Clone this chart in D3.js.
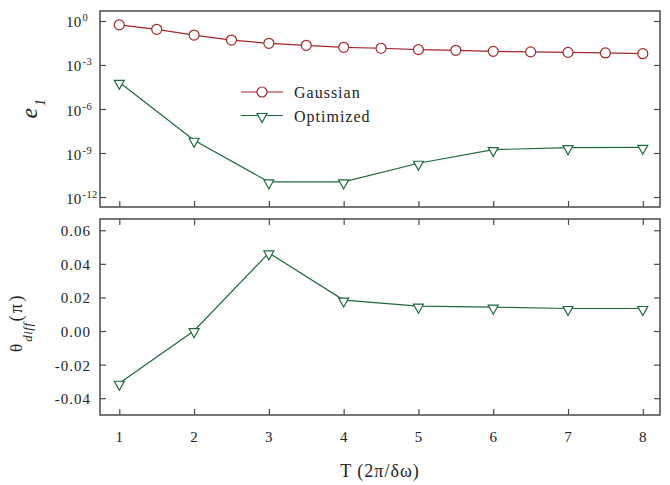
<!DOCTYPE html>
<html>
<head>
<meta charset="utf-8">
<script src="https://cdn.jsdelivr.net/npm/d3@7"></script>
<style>
  html, body { margin: 0; padding: 0; background: #fff; }
  svg text { font-family: "Liberation Serif", "Times New Roman", serif; fill: #222; }
</style>
</head>
<body>
<svg id="chart" width="670" height="485"></svg>
<script>
// ---------- data ----------
const xTicks = [1, 2, 3, 4, 5, 6, 7, 8];
const gaussT = [1, 1.5, 2, 2.5, 3, 3.5, 4, 4.5, 5, 5.5, 6, 6.5, 7, 7.5, 8];
const gaussE = [0.54, 0.27, 0.11, 0.05, 0.030, 0.022, 0.016, 0.0138, 0.0112, 0.010, 0.0085, 0.0078, 0.0072, 0.0066, 0.0059];
const optT = [1, 2, 3, 4, 5, 6, 7, 8];
const optE = [6.6e-5, 7.4e-9, 1.07e-11, 1.07e-11, 2.0e-10, 1.7e-9, 2.3e-9, 2.45e-9];
const thetaDiff = [-0.0311, 0.0002, 0.0465, 0.0184, 0.0148, 0.0142, 0.0134, 0.0134];
const topExponents = [0, -3, -6, -9, -12];
const bottomTicks = [0.06, 0.04, 0.02, 0.00, -0.02, -0.04];
const seriesNames = ["Gaussian", "Optimized"];
const colors = { gauss: "#a3282c", opt: "#1d6b3b" };

// ---------- layout ----------
const svg = d3.select("#chart");
const L = 100, R = 660;
const top1 = 11, bot1 = 207;
const top2 = 219, bot2 = 415;
const frameColor = "#4a4a4a";

const x = d3.scaleLinear().domain([0.742, 8.23]).range([L, R]);
const yTop = d3.scaleLog().domain([Math.pow(10, -12.68), Math.pow(10, 0.68)]).range([bot1, top1]);
const yBot = d3.scaleLinear().domain([-0.0500, 0.0667]).range([bot2, top2]);

function styleAxis(g) {
  g.select(".domain").remove();
  g.selectAll(".tick line").attr("stroke", frameColor).attr("stroke-width", 1.2);
  g.selectAll(".tick text").remove();
}

// ---------- top panel ----------
const gTop = svg.append("g");
gTop.append("g").attr("transform", `translate(${L},0)`)
  .call(d3.axisLeft(yTop).tickValues(topExponents.map(e => Math.pow(10, e))).tickSize(-6).tickFormat(""))
  .call(styleAxis);
gTop.append("g").attr("transform", `translate(${R},0)`)
  .call(d3.axisRight(yTop).tickValues(topExponents.map(e => Math.pow(10, e))).tickSize(-6).tickFormat(""))
  .call(styleAxis);
gTop.append("g").attr("transform", `translate(0,${bot1})`)
  .call(d3.axisBottom(x).tickValues(xTicks).tickSize(-6).tickFormat(""))
  .call(styleAxis);
gTop.append("rect").attr("x", L).attr("y", top1).attr("width", R - L).attr("height", bot1 - top1)
  .attr("fill", "none").attr("stroke", frameColor).attr("stroke-width", 1.5);

// top tick labels 10^n
topExponents.forEach(e => {
  const t = gTop.append("text").attr("x", 66).attr("y", yTop(Math.pow(10, e)) + 6.5)
    .attr("font-size", 15).attr("letter-spacing", 0.3);
  t.append("tspan").text("10");
  t.append("tspan").attr("font-size", 10.5).attr("dy", -6).attr("dx", 1).text(String(e));
});

// y-label e_1
const eLab = svg.append("text").attr("transform", "translate(37,118.5) rotate(-90)");
eLab.append("tspan").attr("font-size", 24).attr("font-style", "italic").text("e");
eLab.append("tspan").attr("font-size", 15).attr("font-style", "italic").attr("dy", 8).attr("dx", 1.5).text("1");

// series
const lineG = d3.line().x((d, i) => x(gaussT[i])).y(d => yTop(d));
gTop.append("path").datum(gaussE).attr("d", lineG).attr("fill", "none")
  .attr("stroke", colors.gauss).attr("stroke-width", 1.2);
gTop.selectAll("circle.g").data(gaussE).enter().append("circle")
  .attr("cx", (d, i) => x(gaussT[i])).attr("cy", d => yTop(d)).attr("r", 5)
  .attr("fill", "#fff").attr("stroke", colors.gauss).attr("stroke-width", 1.2);

function triPath(cx, cy) {
  return `M${cx - 5},${cy - 2}L${cx + 5},${cy - 2}L${cx},${cy + 7}Z`;
}
const lineO = d3.line().x((d, i) => x(optT[i])).y(d => yTop(d));
gTop.append("path").datum(optE).attr("d", lineO).attr("fill", "none")
  .attr("stroke", colors.opt).attr("stroke-width", 1.2);
gTop.selectAll("path.t").data(optE).enter().append("path")
  .attr("d", (d, i) => triPath(x(optT[i]), yTop(d)))
  .attr("fill", "#fff").attr("stroke", colors.opt).attr("stroke-width", 1.2);

// legend
const leg = svg.append("g");
leg.append("line").attr("x1", 241).attr("x2", 283).attr("y1", 92).attr("y2", 92)
  .attr("stroke", colors.gauss).attr("stroke-width", 1.2);
leg.append("circle").attr("cx", 262).attr("cy", 92).attr("r", 5)
  .attr("fill", "#fff").attr("stroke", colors.gauss).attr("stroke-width", 1.2);
leg.append("text").attr("x", 294).attr("y", 98).attr("font-size", 16).attr("letter-spacing", 1).text(seriesNames[0]);
leg.append("line").attr("x1", 241).attr("x2", 283).attr("y1", 115.5).attr("y2", 115.5)
  .attr("stroke", colors.opt).attr("stroke-width", 1.2);
leg.append("path").attr("d", triPath(262, 115.5))
  .attr("fill", "#fff").attr("stroke", colors.opt).attr("stroke-width", 1.2);
leg.append("text").attr("x", 294).attr("y", 121.5).attr("font-size", 16).attr("letter-spacing", 1).text(seriesNames[1]);

// ---------- bottom panel ----------
const gBot = svg.append("g");
gBot.append("g").attr("transform", `translate(${L},0)`)
  .call(d3.axisLeft(yBot).tickValues(bottomTicks).tickSize(-6).tickFormat(""))
  .call(styleAxis);
gBot.append("g").attr("transform", `translate(${R},0)`)
  .call(d3.axisRight(yBot).tickValues(bottomTicks).tickSize(-6).tickFormat(""))
  .call(styleAxis);
gBot.append("g").attr("transform", `translate(0,${bot2})`)
  .call(d3.axisBottom(x).tickValues(xTicks).tickSize(-6).tickFormat(""))
  .call(styleAxis);
gBot.append("g").attr("transform", `translate(0,${top2})`)
  .call(d3.axisTop(x).tickValues(xTicks).tickSize(-6).tickFormat(""))
  .call(styleAxis);
gBot.append("rect").attr("x", L).attr("y", top2).attr("width", R - L).attr("height", bot2 - top2)
  .attr("fill", "none").attr("stroke", frameColor).attr("stroke-width", 1.5);

bottomTicks.forEach(v => {
  gBot.append("text").attr("x", 91).attr("y", yBot(v) + 6).attr("text-anchor", "end")
    .attr("font-size", 15).attr("letter-spacing", 1).text(d3.format(".2f")(v).replace("−", "-"));
});
xTicks.forEach(v => {
  gBot.append("text").attr("x", x(v)).attr("y", 442).attr("text-anchor", "middle")
    .attr("font-size", 15).text(v);
});

const lineT = d3.line().x((d, i) => x(optT[i])).y(d => yBot(d));
gBot.append("path").datum(thetaDiff).attr("d", lineT).attr("fill", "none")
  .attr("stroke", colors.opt).attr("stroke-width", 1.2);
gBot.selectAll("path.t2").data(thetaDiff).enter().append("path")
  .attr("d", (d, i) => triPath(x(optT[i]), yBot(d)))
  .attr("fill", "#fff").attr("stroke", colors.opt).attr("stroke-width", 1.2);

// y-label theta_diff (pi)
const thLab = svg.append("text").attr("transform", "translate(22,352) rotate(-90)");
thLab.append("tspan").attr("font-size", 17).text("θ");
thLab.append("tspan").attr("font-size", 13).attr("font-style", "italic").attr("letter-spacing", 0.5).attr("dy", 10).attr("dx", 2).text("diff");
thLab.append("tspan").attr("font-size", 18).attr("letter-spacing", 2.5).attr("dy", -10).attr("dx", 1).text("(π)");

// x title
svg.append("text").attr("x", 380).attr("y", 477).attr("text-anchor", "middle")
  .attr("font-size", 18).attr("letter-spacing", 1).text("T (2π/δω)");
</script>
</body>
</html>
